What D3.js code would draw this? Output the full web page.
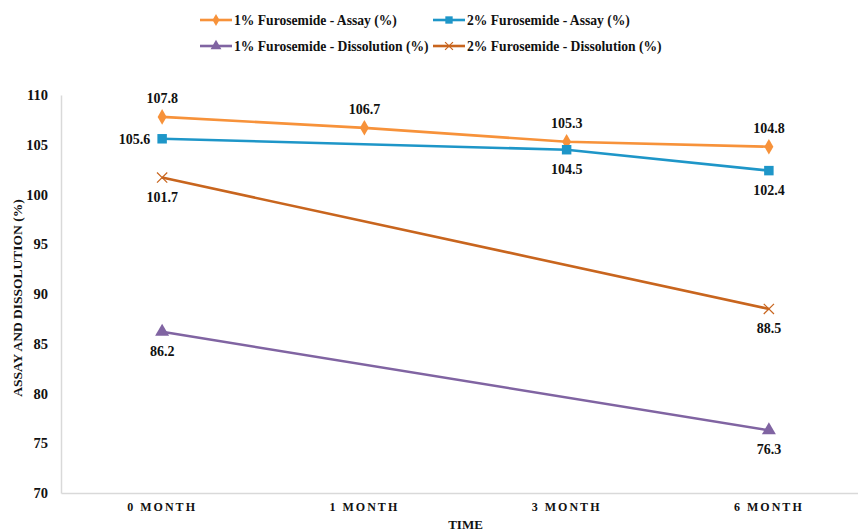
<!DOCTYPE html>
<html>
<head>
<meta charset="utf-8">
<script src="https://cdn.jsdelivr.net/npm/d3@7/dist/d3.min.js"></script>
<style>
  html, body { margin: 0; padding: 0; background: #fff; }
  svg { display: block; font-family: "Liberation Serif", "Times New Roman", serif; }
</style>
</head>
<body>
<svg id="chart" width="858" height="532"></svg>
<script>
// Stability study: assay and dissolution of furosemide formulations over time
const categories = ["0 MONTH", "1 MONTH", "3 MONTH", "6 MONTH"];
const assay1 = [107.8, 106.7, 105.3, 104.8];
const assay2 = [105.6, null, 104.5, 102.4];
const dissolution1 = [86.2, null, null, 76.3];
const dissolution2 = [101.7, null, null, 88.5];
const yTicks = [70, 75, 80, 85, 90, 95, 100, 105, 110];

const series = [
  { name: "1% Furosemide - Assay (%)", values: assay1, color: "#F7923A", symbol: d3.symbolDiamond, size: 70, label: ["above", "above", "above", "above"] },
  { name: "2% Furosemide - Assay (%)", values: assay2, color: "#1E96C8", symbol: d3.symbolSquare, size: 90, label: ["left", null, "below", "below"] },
  { name: "1% Furosemide - Dissolution (%)", values: dissolution1, color: "#8064A2", symbol: d3.symbolTriangle, size: 85, label: ["below", null, null, "below"] },
  { name: "2% Furosemide - Dissolution (%)", values: dissolution2, color: "#C8651E", symbol: d3.symbolX, size: 70, label: ["below", null, null, "below"] }
];

const svg = d3.select("#chart");
const plot = { left: 61, right: 870, top: 95, bottom: 493 };

const x = d3.scaleBand().domain(categories).range([plot.left, plot.right]);
const y = d3.scaleLinear().domain([70, 110]).range([plot.bottom, plot.top]);
const cx = c => x(c) + x.bandwidth() / 2;

// Axes
const yAxis = svg.append("g").attr("transform", `translate(${plot.left},0)`)
  .call(d3.axisLeft(y).tickValues(yTicks).tickSize(0).tickPadding(13));
yAxis.select(".domain").attr("stroke", "#d9d9d9").attr("stroke-width", 1.5);
yAxis.selectAll("text").attr("font-family", "Liberation Serif").attr("font-weight", "bold")
  .attr("font-size", 14.5).attr("fill", "#111");

const xAxis = svg.append("g").attr("transform", `translate(0,${plot.bottom})`)
  .call(d3.axisBottom(x).tickSize(0).tickPadding(9));
xAxis.select(".domain").attr("stroke", "#d9d9d9").attr("stroke-width", 1.5);
xAxis.selectAll("text").attr("font-family", "Liberation Serif").attr("font-weight", "bold")
  .attr("font-size", 12).attr("letter-spacing", "2px").attr("fill", "#111");

// Axis titles
svg.append("text").attr("x", (plot.left + plot.right) / 2).attr("y", 529)
  .attr("text-anchor", "middle").attr("font-weight", "bold").attr("font-size", 13)
  .attr("fill", "#111").text("TIME");
svg.append("text").attr("transform", `translate(22,${(plot.top + plot.bottom) / 2 + 4}) rotate(-90)`)
  .attr("text-anchor", "middle").attr("font-weight", "bold").attr("font-size", 13.5)
  .attr("fill", "#111").text("ASSAY AND DISSOLUTION (%)");

// Lines, markers and value labels
const line = d3.line().x(d => cx(d.c)).y(d => y(d.v));
series.forEach(s => {
  const pts = categories.map((c, i) => ({ c, v: s.values[i], pos: s.label[i] })).filter(d => d.v != null);
  svg.append("path").datum(pts).attr("d", line).attr("fill", "none")
    .attr("stroke", s.color).attr("stroke-width", 2.6);
  const isX = s.symbol === d3.symbolX;
  svg.append("g").selectAll("path").data(pts).join("path")
    .attr("transform", d => `translate(${cx(d.c)},${y(d.v)})`)
    .attr("d", d3.symbol(s.symbol, s.size))
    .attr("fill", isX ? "none" : s.color)
    .attr("stroke", s.color).attr("stroke-width", isX ? 1.2 : 0);
  svg.append("g").selectAll("text").data(pts.filter(d => d.pos)).join("text")
    .attr("x", d => d.pos === "left" ? cx(d.c) - 12 : cx(d.c))
    .attr("y", d => d.pos === "above" ? y(d.v) - 14 : d.pos === "below" ? y(d.v) + 24 : y(d.v) + 5)
    .attr("text-anchor", d => d.pos === "left" ? "end" : "middle")
    .attr("font-weight", "bold").attr("font-size", 14).attr("fill", "#111")
    .text(d => d.v.toFixed(1));
});

// Legend
const legendPos = [[200, 20], [433, 20], [200, 46], [433, 46]];
series.forEach((s, i) => {
  const [lx, ly] = legendPos[i];
  const g = svg.append("g").attr("transform", `translate(${lx},${ly})`);
  g.append("line").attr("x1", 0).attr("x2", 32).attr("y1", 0).attr("y2", 0)
    .attr("stroke", s.color).attr("stroke-width", 2.6);
  const isX = s.symbol === d3.symbolX;
  g.append("path").attr("transform", "translate(16,0)")
    .attr("d", d3.symbol(s.symbol, s.size * 0.6))
    .attr("fill", isX ? "none" : s.color).attr("stroke", s.color).attr("stroke-width", isX ? 1.2 : 0);
  g.append("text").attr("x", 34).attr("y", 5).attr("font-weight", "bold")
    .attr("font-size", 13.6).attr("fill", "#111").text(s.name);
});
</script>
</body>
</html>
